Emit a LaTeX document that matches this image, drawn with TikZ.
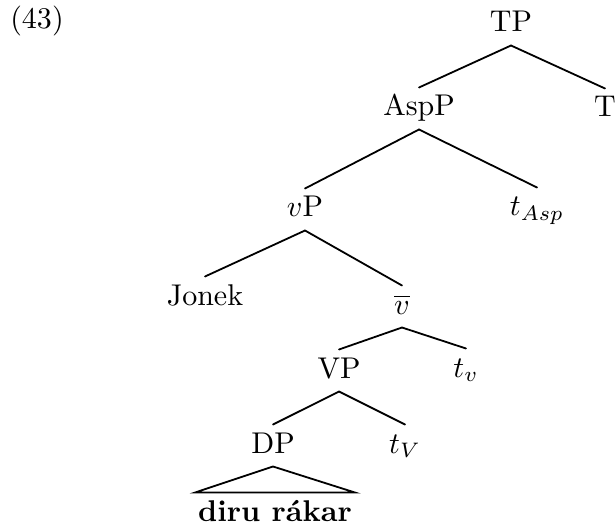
\documentclass[tikz,border=0pt]{standalone}
\usepackage{amsmath}
\usetikzlibrary{calc}
\tikzset{
  cat/.style   ={anchor=base, inner sep=0pt, outer xsep=0pt, outer ysep=2.5pt,
                 text height=7pt, text depth=2pt},
  leafbf/.style={cat, inner xsep=1pt, font=\bfseries},
  branch/.style={line width=0.6pt, line cap=round},
}
\begin{document}
\begin{tikzpicture}[x=0.3333pt, y=-0.3333pt]
\useasboundingbox (0,0) rectangle (615,527);
% example number
\node[anchor=base, inner sep=0pt] (exnum) at (37,28.5) {(43)};

% categories
\node[cat] (tp)   at (511,32)  {TP};
\node[cat] (asp)  at (419,116) {AspP};
\node[cat] (t)    at (605,117) {T};
\node[cat] (vp)   at (305,217) {$v$P};
\node[cat] (tasp) at (537,216) {$t_{Asp}$};
\node[cat] (jon)  at (205,305) {Jonek};
\node[cat] (vbar) at (402,314) {$\overline{v}$};
\node[cat] (VP)   at (339,378) {VP};
\node[cat] (tv)   at (466,377) {$t_v$};
\node[cat] (dp)   at (273,453) {DP};
\node[cat] (tV)   at (405,453) {$t_V$};
\node[leafbf] (dr) at (275,521) {diru rákar};

% branches
\draw[branch] (tp.south) -- (asp.north);
\draw[branch] (tp.south) -- (t.north);
\draw[branch] (asp.south) -- (vp.north);
\draw[branch] (asp.south) -- (tasp.north);
\draw[branch] (vp.south) -- (jon.north);
\draw[branch] (vp.south) -- (vbar.north);
\draw[branch] (vbar.south) -- (VP.north);
\draw[branch] (vbar.south) -- (tv.north);
\draw[branch] (VP.south) -- (dp.north);
\draw[branch] (VP.south) -- (tV.north);
% roof over the DP
\draw[branch] (dp.south) -- (dr.north west) -- (dr.north east) -- cycle;
\end{tikzpicture}
\end{document}
